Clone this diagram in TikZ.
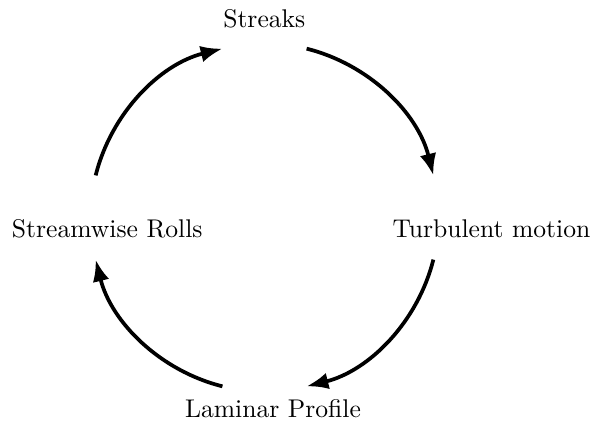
\documentclass[tikz,border=0pt]{standalone}
\usetikzlibrary{arrows.meta,calc}
\begin{document}
\begin{tikzpicture}[x=0.390625pt,y=0.390625pt,
  lbl/.style={anchor=base,inner sep=0pt,font=\normalsize},
  cyc/.style={line width=1.45pt,-{Latex[length=8.5pt,width=6.5pt]}}]
\useasboundingbox (0,0) rectangle (595,431);
\coordinate (C) at (264.5,213.5);
\node[lbl] (streaks) at (264.3,403.3) {Streaks};
\node[lbl] (turb) at (491.4,193.5) {Turbulent motion};
\node[lbl] (rolls) at (107.2,193.5) {Streamwise Rolls};
\node[lbl] (lam) at (273,13.7) {Laminar Profile};
\coordinate (a1) at ($(C)+(166:174)$);
\coordinate (a2) at ($(C)+(76:174)$);
\coordinate (a3) at ($(C)+(-14:174)$);
\coordinate (a4) at ($(C)+(-104:174)$);
\draw[cyc] (a1) arc[start angle=166,end angle=104,radius=174];
\draw[cyc] (a2) arc[start angle=76,end angle=14,radius=174];
\draw[cyc] (a3) arc[start angle=-14,end angle=-76,radius=174];
\draw[cyc] (a4) arc[start angle=-104,end angle=-166,radius=174];
\end{tikzpicture}
\end{document}
